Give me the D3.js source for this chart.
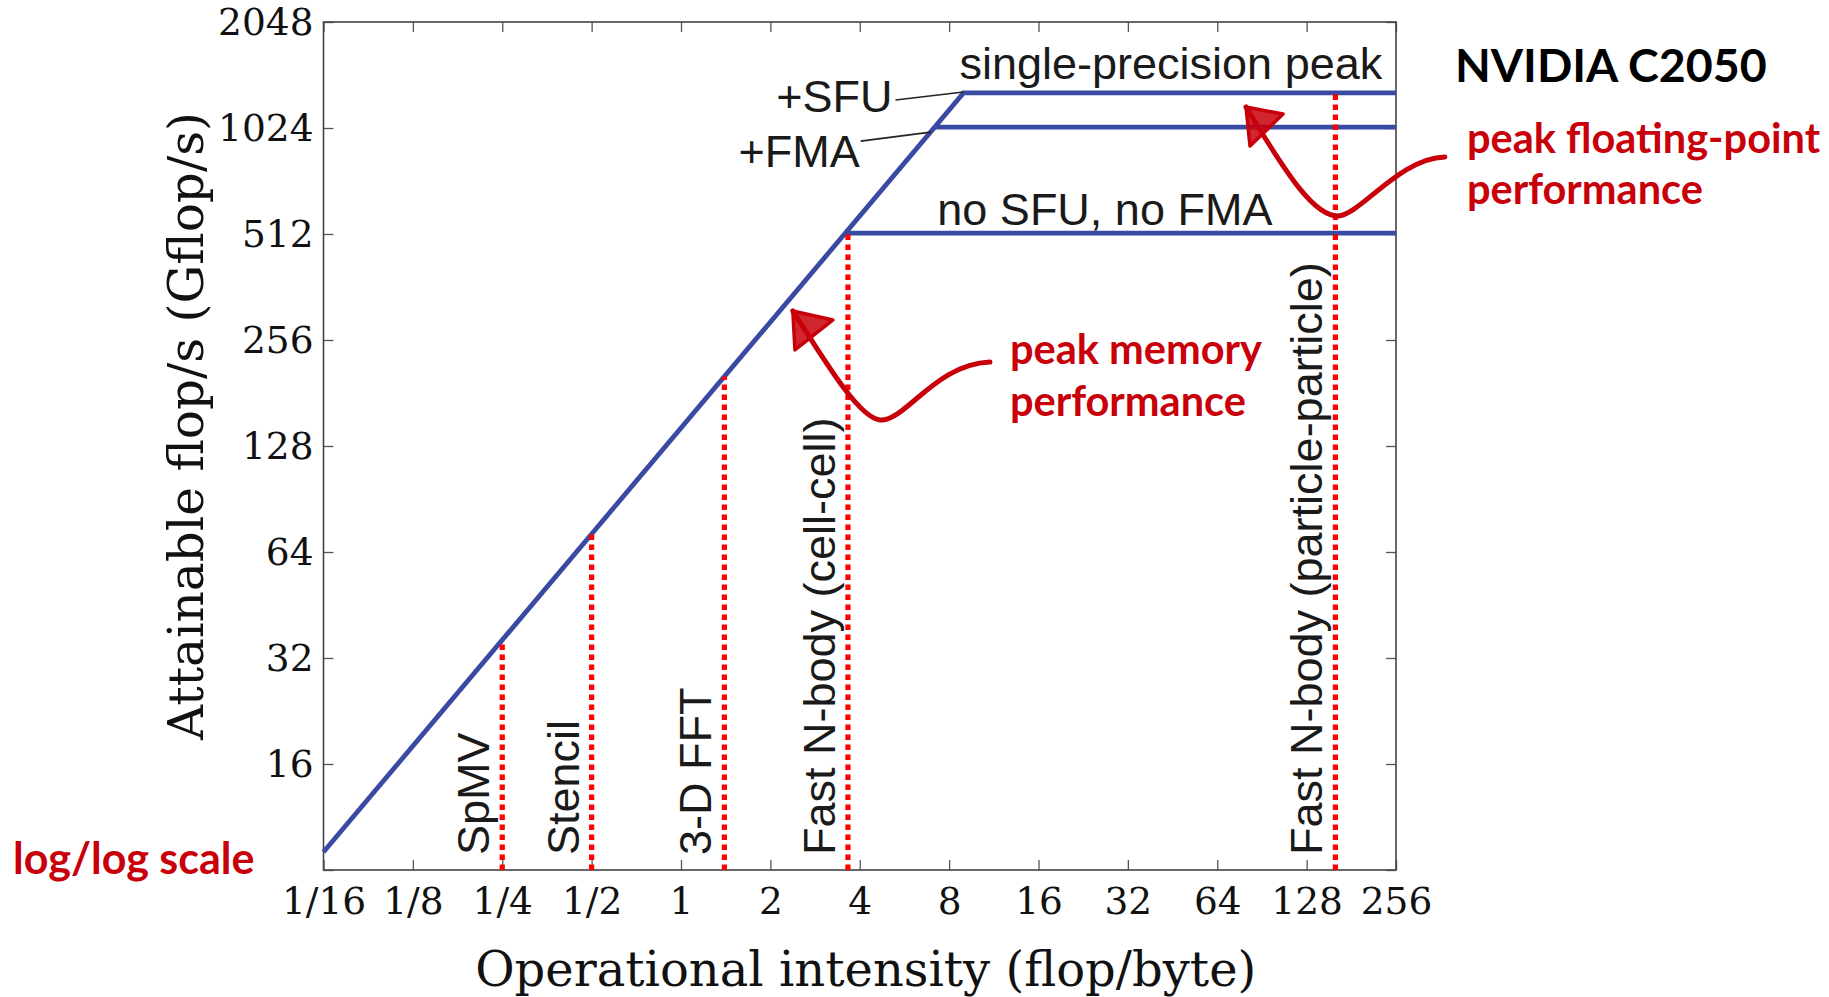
<!DOCTYPE html>
<html><head><meta charset="utf-8">
<script src="https://cdn.jsdelivr.net/npm/d3@7"></script>
<style>html,body{margin:0;padding:0;background:#fff;} svg{display:block}</style>
</head><body>
<svg id="chart" width="1829" height="997"></svg>
<script>
// ---------- data ----------
const xTickValues = [1/16, 1/8, 1/4, 1/2, 1, 2, 4, 8, 16, 32, 64, 128, 256];
const xTickLabels = ["1/16","1/8","1/4","1/2","1","2","4","8","16","32","64","128","256"];
const yTickValues = [8, 16, 32, 64, 128, 256, 512, 1024, 2048];
const yTickLabels = ["", "16","32","64","128","256","512","1024","2048"];
const peakBandwidth = 144;                       // GB/s
const ceilingNames  = ["single-precision peak", "+FMA", "no SFU, no FMA"];
const ceilingValues = [1288, 1030, 515];         // Gflop/s
const kernelNames     = ["SpMV", "Stencil", "3-D FFT", "Fast N-body (cell-cell)", "Fast N-body (particle-particle)"];
const kernelIntensity = [0.25, 0.5, 1.4, 3.65, 160];   // flop/byte
// hand-drawn annotation arrows, in data space [flop/byte, Gflop/s]
const memArrow   = [[10.98,221.7],[7.17,218.8],[5.68,149.7],[4.68,151.7],[4.01,153.7],[3.18,210.4],[2.38,309.5]];
const memBarbs   = [[3.25,291.8],[2.42,239.9]];
const flopArrow  = [[374,847],[264.2,841.6],[193.6,579.8],[163.3,576],[136.6,576],[112.5,728.8],[80.0,1174.8]];
const flopBarbs  = [[106.6,1122],[82.5,910]];

// ---------- layout ----------
const W = 1829, H = 997;
const L = 323.5, R = 1396, T = 22, B = 870;
const svg = d3.select("#chart");

const x = d3.scaleLog().base(2).domain([1/16, 256]).range([L, R]);
const y = d3.scaleLog().base(2).domain([8, 2048]).range([B, T]);

const serif = "'DejaVu Serif', serif";
const sans  = "'Liberation Sans', Arial, sans-serif";
const anno  = "Lato, 'Open Sans', sans-serif";
const blue = "#3a4aa2", red = "#ff0000", annoRed = "#c8000a";

// ---------- axes ----------
function styleAxis(g){
  g.select(".domain").remove();
  g.selectAll(".tick line").attr("stroke","#555").attr("stroke-width",1.3);
}
svg.append("g").attr("transform",`translate(0,${B})`)
  .call(d3.axisBottom(x).tickValues(xTickValues).tickFormat((d,i)=>xTickLabels[i]).tickSize(-10).tickPadding(17))
  .call(styleAxis)
  .call(g=>g.selectAll("text").attr("font-family",serif).attr("font-size",37.5).attr("fill","#111"));
svg.append("g").attr("transform",`translate(0,${T})`)
  .call(d3.axisTop(x).tickValues(xTickValues).tickFormat("").tickSize(-10))
  .call(styleAxis);
svg.append("g").attr("transform",`translate(${L},0)`)
  .call(d3.axisLeft(y).tickValues(yTickValues).tickFormat((d,i)=>yTickLabels[i]).tickSize(-10).tickPadding(10))
  .call(styleAxis)
  .call(g=>g.selectAll("text").attr("font-family",serif).attr("font-size",37.5).attr("fill","#111"));
svg.append("g").attr("transform",`translate(${R},0)`)
  .call(d3.axisRight(y).tickValues(yTickValues).tickFormat("").tickSize(-10))
  .call(styleAxis);

svg.append("rect").attr("x",L).attr("y",T).attr("width",R-L).attr("height",B-T)
  .attr("fill","none").attr("stroke","#444").attr("stroke-width",1.6);

// axis titles
svg.append("text").attr("x",(L+R)/2+6).attr("y",986).attr("text-anchor","middle")
  .attr("font-family",serif).attr("font-size",48).attr("fill","#111")
  .text("Operational intensity (flop/byte)");
svg.append("text").attr("transform",`translate(203,${(T+B)/2-20}) rotate(-90)`).attr("text-anchor","middle")
  .attr("font-family",serif).attr("font-size",48.5).attr("fill","#111")
  .text("Attainable flop/s (Gflop/s)");

// ---------- roofline ----------
const line = d3.line().x(d=>x(d[0])).y(d=>y(d[1]));
const topPeak = d3.max(ceilingValues);
const xMax = x.domain()[1], xMin = x.domain()[0];
svg.append("path")
  .attr("d", line([[xMin, peakBandwidth*xMin],[topPeak/peakBandwidth, topPeak],[xMax, topPeak]]))
  .attr("fill","none").attr("stroke",blue).attr("stroke-width",4.8).attr("stroke-linejoin","miter");
ceilingValues.forEach((v,i)=>{
  if (v === topPeak) return;
  svg.append("path")
    .attr("d", line([[v/peakBandwidth, v],[xMax, v]]))
    .attr("fill","none").attr("stroke",blue).attr("stroke-width",4.8);
});

// ---------- kernels ----------
kernelIntensity.forEach((k,i)=>{
  const top = Math.min(peakBandwidth*k, topPeak);
  svg.append("line")
    .attr("x1",x(k)).attr("x2",x(k)).attr("y1",y(8)).attr("y2",y(top))
    .attr("stroke",red).attr("stroke-width",5.2).attr("stroke-dasharray","5.5,4.5");
  svg.append("text")
    .attr("transform",`translate(${x(k)-13},${B-15}) rotate(-90)`)
    .attr("font-family",sans).attr("font-size",45).attr("fill","#1a1a1a")
    .text(kernelNames[i]);
});

// ---------- ceiling labels ----------
{
  const rx = x(ceilingValues[0]/peakBandwidth), ry = y(ceilingValues[0]);
  svg.append("text").attr("x",rx-4).attr("y",ry-14).attr("font-family",sans).attr("font-size",45).attr("fill","#1a1a1a").text(ceilingNames[0]);
  svg.append("text").attr("x",rx-71).attr("y",ry+19).attr("text-anchor","end").attr("font-family",sans).attr("font-size",45).attr("fill","#1a1a1a").text("+SFU");
  svg.append("line").attr("x1",rx-68).attr("y1",ry+7).attr("x2",rx).attr("y2",ry-1).attr("stroke","#222").attr("stroke-width",1.6);
}
{
  const rx = x(ceilingValues[1]/peakBandwidth), ry = y(ceilingValues[1]);
  svg.append("text").attr("x",rx-75).attr("y",ry+40).attr("text-anchor","end").attr("font-family",sans).attr("font-size",45).attr("fill","#1a1a1a").text(ceilingNames[1]);
  svg.append("line").attr("x1",rx-74).attr("y1",ry+14).attr("x2",rx-4).attr("y2",ry+5).attr("stroke","#222").attr("stroke-width",1.6);
}
{
  const rx = x(ceilingValues[2]/peakBandwidth), ry = y(ceilingValues[2]);
  svg.append("text").attr("x",rx+92).attr("y",ry-8).attr("font-family",sans).attr("font-size",45).attr("fill","#1a1a1a").text(ceilingNames[2]);
}

// ---------- annotations ----------
function arrow(pts, barbs){
  const p = pts.map(d=>[x(d[0]), y(d[1])]);
  const d = `M${p[0]} C${p[1]} ${p[2]} ${p[3]} C${p[4]} ${p[5]} ${p[6]}`;
  const g = svg.append("g");
  g.append("path").attr("d",d).attr("fill","none").attr("stroke",annoRed).attr("stroke-width",5).attr("stroke-linecap","round");
  const tip = p[6];
  const b = barbs.map(d=>[x(d[0]), y(d[1])]);
  g.append("path").attr("d",`M${b[0]} L${tip} L${b[1]} Z`).attr("fill",annoRed).attr("fill-opacity",0.85)
    .attr("stroke",annoRed).attr("stroke-width",3.5).attr("stroke-linejoin","round");
}
arrow(memArrow, memBarbs);
arrow(flopArrow, flopBarbs);

svg.append("text").attr("x",1455).attr("y",82).attr("font-family",anno).attr("font-weight","bold")
  .attr("font-size",46.5).attr("fill","#000").text("NVIDIA C2050");
const annoText = (tx,ty,t,fs)=>svg.append("text").attr("x",tx).attr("y",ty).attr("font-family",anno)
  .attr("font-weight","bold").attr("font-size",fs).attr("fill",annoRed).text(t);
annoText(1467,153,"peak floating-point",41.5);
annoText(1467,204,"performance",41.5);
annoText(1010,364,"peak memory",41.5);
annoText(1010,416,"performance",41.5);
annoText(13,874,"log/log scale",43);
</script>
</body></html>
